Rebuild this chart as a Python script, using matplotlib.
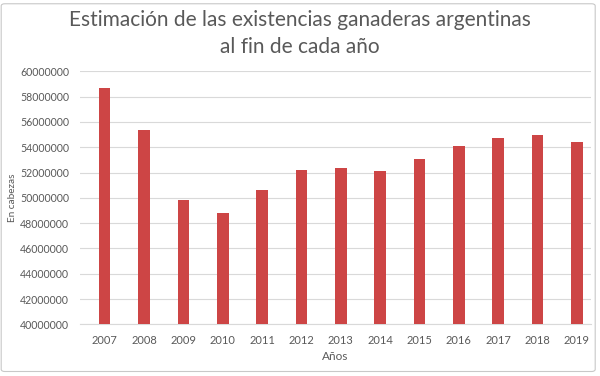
import numpy as np
import matplotlib
matplotlib.use("Agg")
from matplotlib import pyplot as plt
from matplotlib.patches import FancyBboxPatch

# data
years = ['2007', '2008', '2009', '2010', '2011', '2012', '2013',
         '2014', '2015', '2016', '2017', '2018', '2019']
stock = [58700000, 55350000, 49800000, 48800000, 50650000, 52170000, 52330000,
         52100000, 53070000, 54120000, 54730000, 54940000, 54410000]
yticks = list(range(40000000, 60000001, 2000000))

plt.rcParams['font.family'] = ['Lato', 'DejaVu Sans']
grey = '#595959'

fig = plt.figure(figsize=(6, 3.76), dpi=100)
ax = fig.add_axes([80 / 600, 1 - 324.3 / 376, 511 / 600, 253 / 376])

x = np.arange(len(years))
ax.bar(x, stock, width=0.29, color='#CD4545', zorder=3)

ax.set_ylim(40000000, 60000000)
ax.set_xlim(-0.63, 12.36)
ax.set_yticks(yticks)
ax.set_yticklabels([str(v) for v in yticks])
ax.set_xticks(x)
ax.set_xticklabels(years)
ax.tick_params(axis='y', length=0, labelsize=7.6, colors=grey, pad=8)
ax.tick_params(axis='x', length=0, labelsize=8, colors=grey, pad=8)

ax.grid(axis='y', color='#d9d9d9', linewidth=0.8, zorder=0)
for s in ['top', 'right', 'left']:
    ax.spines[s].set_visible(False)
ax.spines['bottom'].set_color('#d9d9d9')
ax.spines['bottom'].set_linewidth(0.8)

ax.set_xlabel('Años', fontsize=8.5, color=grey, labelpad=3)
ax.set_ylabel('En cabezas', fontsize=7.2, color=grey, labelpad=2)

fig.text(0.5, 1 - 20 / 376, 'Estimación de las existencias ganaderas argentinas',
         ha='center', va='center', fontsize=15, color=grey)
fig.text(0.5, 1 - 47 / 376, 'al fin de cada año',
         ha='center', va='center', fontsize=15, color=grey)

# chart frame
frame = FancyBboxPatch((0.002, 0.012), 0.99, 0.978, boxstyle='round,pad=0,rounding_size=0.006',
                       transform=fig.transFigure, fill=False, edgecolor='#c8c8c8', linewidth=0.8)
fig.patches.append(frame)

plt.savefig('out.png', dpi=100)
